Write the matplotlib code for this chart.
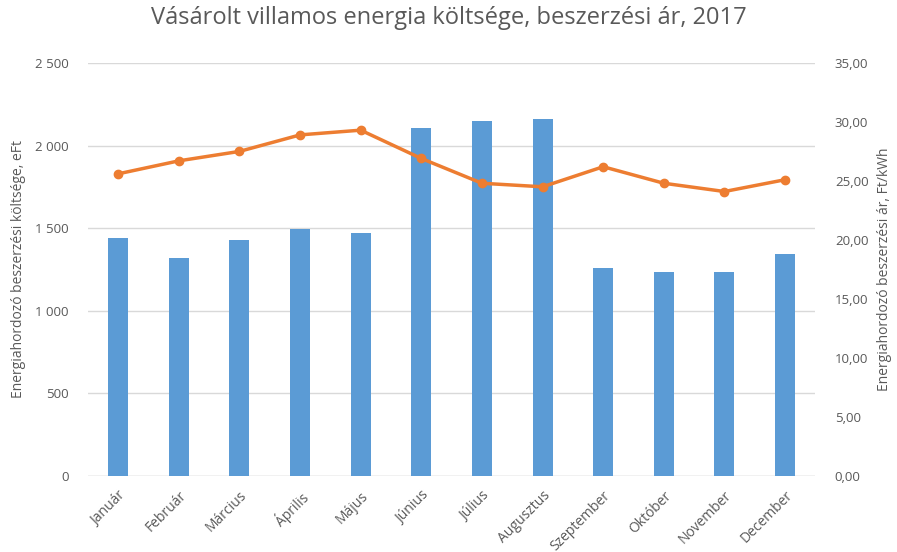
import matplotlib
matplotlib.use("Agg")
import matplotlib.pyplot as plt
from matplotlib.ticker import FuncFormatter

# ----- Data -----
months = ["Január", "Február", "Március", "Április", "Május", "Június",
          "Július", "Augusztus", "Szeptember", "Október", "November", "December"]
cost_eft = [1441, 1320, 1429, 1495, 1471, 2107, 2149, 2161, 1259, 1235, 1235, 1344]
price_ft_kwh = [25.6, 26.7, 27.5, 28.9, 29.3, 26.9, 24.8, 24.5, 26.2, 24.8, 24.1, 25.1]

BLUE = "#5B9BD5"
ORANGE = "#ED7D31"
GRAY = "#595959"
GRID = "#D9D9D9"

plt.rcParams["font.family"] = ["Open Sans", "DejaVu Sans"]

fig = plt.figure(figsize=(8.97, 5.52), dpi=100)
ax = fig.add_axes([0.098, 0.138, 0.811, 0.748])
ax2 = ax.twinx()

x = list(range(len(months)))
ax.bar(x, cost_eft, width=0.33, color=BLUE, zorder=2)
ax2.plot(x, price_ft_kwh, color=ORANGE, linewidth=2.5, marker="o", markersize=6, zorder=3)

ax.set_xlim(-0.5, len(months) - 0.5)
ax.set_ylim(0, 2500)
ax.set_yticks(range(0, 2501, 500))
ax.yaxis.set_major_formatter(FuncFormatter(lambda v, p: f"{int(v):,}".replace(",", " ")))
ax2.set_ylim(0, 35)
ax2.set_yticks(range(0, 36, 5))
ax2.yaxis.set_major_formatter(FuncFormatter(lambda v, p: f"{v:.2f}".replace(".", ",")))

ax.grid(axis="y", color=GRID, linewidth=1, zorder=0)
ax.set_axisbelow(True)
for a in (ax, ax2):
    for side in ("top", "left", "right", "bottom"):
        a.spines[side].set_visible(False)
    a.tick_params(length=0, colors=GRAY, labelsize=9.5)
ax.axhline(0, color=GRID, linewidth=1, zorder=1)

ax.set_xticks(x)
ax.set_xticklabels(months, rotation=45, ha="right", rotation_mode="anchor", fontsize=10, color=GRAY)
ax.tick_params(axis="x", pad=9)
ax.tick_params(axis="y", pad=14)
ax2.tick_params(axis="y", pad=14)

ax.set_ylabel("Energiahordozó beszerzési költsége, eFt", color=GRAY, fontsize=10, labelpad=6)
ax2.set_ylabel("Energiahordozó beszerzési ár, Ft/kWh", color=GRAY, fontsize=10, labelpad=6)

fig.suptitle("Vásárolt villamos energia költsége, beszerzési ár, 2017",
             color=GRAY, fontsize=17, y=0.99)

fig.savefig("out.png", dpi=100)
